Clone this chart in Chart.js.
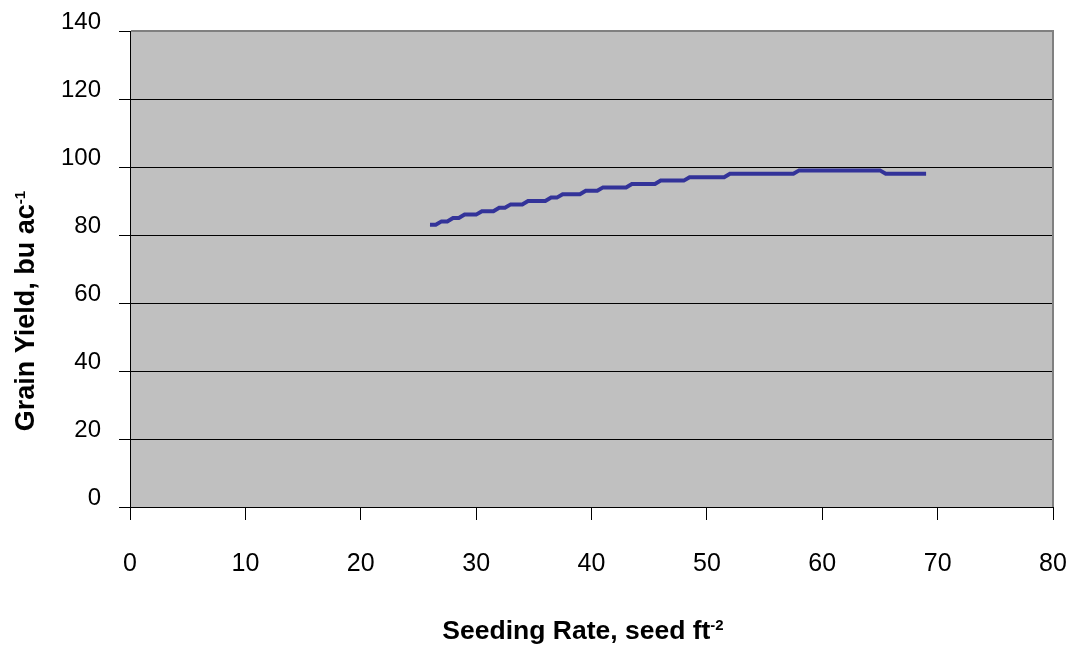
<!DOCTYPE html>
<html>
<head>
<meta charset="utf-8">
<script src="https://cdn.jsdelivr.net/npm/chart.js@4.4.1/dist/chart.umd.min.js"></script>
<style>
  body { margin: 0; background: #fff; }
  #yieldChart { display: block; }
</style>
</head>
<body>
<canvas id="yieldChart" width="1073" height="654"></canvas>
<script>
// seeding rate (seed ft-2) and grain yield (bu ac-1)
var seedRate = [
  26, 26.5, 27, 27.5, 28, 28.5, 29, 29.5, 30, 30.5,
  31, 31.5, 32, 32.5, 33, 33.5, 34, 34.5, 35, 35.5,
  36, 36.5, 37, 37.5, 38, 38.5, 39, 39.5, 40, 40.5,
  41, 41.5, 42, 42.5, 43, 43.5, 44, 44.5, 45, 45.5,
  46, 46.5, 47, 47.5, 48, 48.5, 49, 49.5, 50, 50.5,
  51, 51.5, 52, 52.5, 53, 53.5, 54, 54.5, 55, 55.5,
  56, 56.5, 57, 57.5, 58, 58.5, 59, 59.5, 60, 60.5,
  61, 61.5, 62, 62.5, 63, 63.5, 64, 64.5, 65, 65.5,
  66, 66.5, 67, 67.5, 68, 68.5, 69
];
var grainYield = [
  83, 83, 84, 84, 85, 85, 86, 86, 86, 87,
  87, 87, 88, 88, 89, 89, 89, 90, 90, 90,
  90, 91, 91, 92, 92, 92, 92, 93, 93, 93,
  94, 94, 94, 94, 94, 95, 95, 95, 95, 95,
  96, 96, 96, 96, 96, 97, 97, 97, 97, 97,
  97, 97, 98, 98, 98, 98, 98, 98, 98, 98,
  98, 98, 98, 98, 99, 99, 99, 99, 99, 99,
  99, 99, 99, 99, 99, 99, 99, 99, 99, 98,
  98, 98, 98, 98, 98, 98, 98
];
var xTicks = [0, 10, 20, 30, 40, 50, 60, 70, 80];
var yTicks = [0, 20, 40, 60, 80, 100, 120, 140];

var FONT = "'Liberation Sans', Arial, sans-serif";

var points = seedRate.map(function (x, i) { return { x: x, y: grainYield[i] }; });

// text with a superscript tail, centred on 0
function supText(ctx, main, sup, size, supSize) {
  ctx.font = 'bold ' + size + 'px ' + FONT;
  var w1 = ctx.measureText(main).width;
  ctx.font = 'bold ' + supSize + 'px ' + FONT;
  var w2 = ctx.measureText(sup).width;
  var start = -(w1 + w2) / 2;
  ctx.textAlign = 'left';
  ctx.textBaseline = 'alphabetic';
  ctx.font = 'bold ' + size + 'px ' + FONT;
  ctx.fillText(main, start, 0);
  ctx.font = 'bold ' + supSize + 'px ' + FONT;
  ctx.fillText(sup, start + w1, -9);
}

var plotDecor = {
  id: 'plotDecor',
  beforeDraw: function (chart) {
    var a = chart.chartArea, ctx = chart.ctx;
    ctx.save();
    ctx.fillStyle = '#c0c0c0';
    ctx.fillRect(a.left, a.top, a.right - a.left, a.bottom - a.top);
    ctx.restore();
  },
  afterDraw: function (chart) {
    var a = chart.chartArea, ctx = chart.ctx;
    ctx.save();
    ctx.strokeStyle = '#808080';
    ctx.lineWidth = 2;
    ctx.beginPath();
    ctx.moveTo(a.left + 1, a.top);
    ctx.lineTo(a.right, a.top);
    ctx.lineTo(a.right, a.bottom);
    ctx.stroke();

    ctx.fillStyle = '#000';
    ctx.save();
    ctx.translate(583, 639);
    supText(ctx, 'Seeding Rate, seed ft', '-2', 26.5, 15);
    ctx.restore();

    ctx.save();
    ctx.translate(34, 311);
    ctx.rotate(-Math.PI / 2);
    supText(ctx, 'Grain Yield, bu ac', '-1', 27, 15);
    ctx.restore();
    ctx.restore();
  }
};

new Chart(document.getElementById('yieldChart'), {
  type: 'line',
  data: {
    datasets: [{
      label: 'Grain Yield',
      data: points,
      borderColor: '#333399',
      borderWidth: 4,
      pointRadius: 0,
      tension: 0,
      fill: false
    }]
  },
  options: {
    responsive: false,
    animation: false,
    devicePixelRatio: 1,
    layout: { padding: { top: 31, right: 20, left: 0, bottom: 0 } },
    plugins: { legend: { display: false }, tooltip: { enabled: false } },
    scales: {
      x: {
        type: 'linear',
        min: xTicks[0],
        max: xTicks[xTicks.length - 1],
        afterBuildTicks: function (s) { s.ticks = xTicks.map(function (v) { return { value: v }; }); },
        afterFit: function (s) { s.height = 147; s.paddingRight = 0; s.paddingLeft = 0; },
        grid: { drawOnChartArea: false, drawTicks: true, tickLength: 13, color: '#000' },
        border: { color: '#000', width: 1 },
        ticks: { color: '#000', padding: 29, maxRotation: 0, font: { family: FONT, size: 25 } }
      },
      y: {
        type: 'linear',
        min: yTicks[0],
        max: yTicks[yTicks.length - 1],
        afterBuildTicks: function (s) { s.ticks = yTicks.map(function (v) { return { value: v }; }); },
        afterFit: function (s) { s.width = 130; s.paddingTop = 0; s.paddingBottom = 0; },
        grid: { color: '#000', tickLength: 11 },
        border: { color: '#000', width: 1 },
        ticks: { color: '#000', padding: 18, labelOffset: -9, font: { family: FONT, size: 24 } }
      }
    }
  },
  plugins: [plotDecor]
});
</script>
</body>
</html>
